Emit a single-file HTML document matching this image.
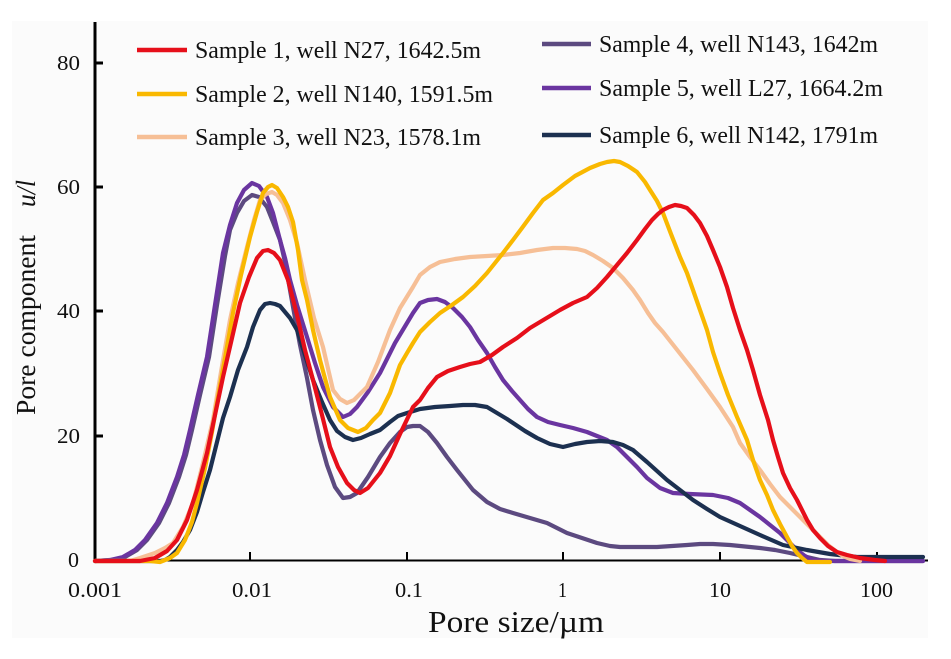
<!DOCTYPE html>
<html>
<head>
<meta charset="utf-8">
<style>
html,body{margin:0;padding:0;background:#ffffff;}
svg{display:block;}
text{font-family:"Liberation Serif","Times New Roman",serif;fill:#111;}
</style>
</head>
<body>
<svg width="951" height="659" viewBox="0 0 951 659" xmlns="http://www.w3.org/2000/svg">
<rect x="0" y="0" width="951" height="659" fill="#ffffff"/>
<rect x="12" y="21" width="916" height="617" fill="#fbfbfb"/>

<!-- axes -->
<line x1="95" y1="22" x2="95" y2="562" stroke="#000" stroke-width="3"/>
<line x1="94" y1="560.5" x2="928" y2="560.5" stroke="#000" stroke-width="2"/>
<!-- y ticks -->
<g stroke="#000" stroke-width="3">
<line x1="95" y1="63" x2="103" y2="63"/>
<line x1="95" y1="187" x2="103" y2="187"/>
<line x1="95" y1="311" x2="103" y2="311"/>
<line x1="95" y1="436" x2="103" y2="436"/>
</g>
<!-- x ticks -->
<g stroke="#000" stroke-width="2">
<line x1="250" y1="552" x2="250" y2="561"/>
<line x1="407" y1="552" x2="407" y2="561"/>
<line x1="563" y1="552" x2="563" y2="561"/>
<line x1="720" y1="552" x2="720" y2="561"/>
<line x1="877" y1="552" x2="877" y2="561"/>
</g>

<!-- y tick labels -->
<g font-size="21">
<text x="57" y="70" textLength="23" lengthAdjust="spacingAndGlyphs">80</text>
<text x="57" y="194" textLength="23" lengthAdjust="spacingAndGlyphs">60</text>
<text x="57" y="318" textLength="23" lengthAdjust="spacingAndGlyphs">40</text>
<text x="57" y="443" textLength="23" lengthAdjust="spacingAndGlyphs">20</text>
<text x="68" y="567" textLength="11" lengthAdjust="spacingAndGlyphs">0</text>
</g>
<!-- x tick labels -->
<g font-size="21">
<text x="68" y="597" textLength="54" lengthAdjust="spacingAndGlyphs">0.001</text>
<text x="232" y="597" textLength="40" lengthAdjust="spacingAndGlyphs">0.01</text>
<text x="395" y="597" textLength="28" lengthAdjust="spacingAndGlyphs">0.1</text>
<text x="558" y="597" textLength="9" lengthAdjust="spacingAndGlyphs">1</text>
<text x="709" y="597" textLength="22" lengthAdjust="spacingAndGlyphs">10</text>
<text x="860" y="597" textLength="33" lengthAdjust="spacingAndGlyphs">100</text>
</g>

<!-- axis titles -->
<text x="428" y="632" font-size="31" textLength="176" lengthAdjust="spacingAndGlyphs">Pore size/µm</text>
<g transform="translate(35,415) rotate(-90)">
<text x="0" y="0" font-size="27" textLength="180" lengthAdjust="spacingAndGlyphs">Pore component</text>
<text x="208" y="0" font-size="27" font-style="italic" textLength="27" lengthAdjust="spacingAndGlyphs">u/l</text>
</g>

<!-- series -->
<g fill="none" stroke-width="4.2" stroke-linejoin="round" stroke-linecap="round">
<!-- Sample 4 -->
<polyline stroke="#5c4a80" points="95,561 112,560 125,557 137,550 147,540 159,523 169,503 179,477 186,455 192,430 200,395 209,357 217,305 225,256 230,230 237,213 244,201 252,195 259,197 267,207 273,222 280,240 285,262 290,290 295,318 300,345 307,378 313,410 320,440 327,465 335,487 343,498 350,497 357,493 368,477 380,457 390,443 400,432 407,427 413,426 420,426 428,432 437,443 447,457 457,470 473,490 487,502 500,509 513,513 530,518 547,523 557,528 567,533 582,538 597,543 610,546 620,547 640,547 657,547 672,546 687,545 700,544 713,544 730,545 740,546 760,548 775,550 790,553 807,557 820,560 835,561 923,561"/>
<!-- Sample 5 -->
<polyline stroke="#6a35a0" points="95,561 110,560 123,557 135,550 145,540 157,523 167,503 177,477 184,455 190,430 198,395 207,357 215,305 223,253 230,225 237,203 244,190 252,183 259,186 267,197 273,213 280,240 285,258 290,280 297,305 307,337 315,363 323,387 333,407 343,417 350,414 357,407 368,392 380,373 395,343 413,313 420,303 428,300 437,299 445,302 453,308 462,317 470,327 478,340 487,353 495,367 503,380 512,391 520,400 528,409 537,417 548,422 560,425 573,428 587,432 597,436 607,440 617,447 627,457 637,467 647,478 660,488 673,493 690,494 713,495 728,498 740,503 750,510 760,517 770,525 780,533 790,543 797,550 805,556 812,560 825,561 923,561"/>
<!-- Sample 6 -->
<polyline stroke="#1c3050" points="95,561 160,561 165,560 170,557 177,550 183,542 190,530 197,512 203,492 210,470 217,442 223,418 230,397 238,370 247,347 253,327 260,310 265,304 270,303 275,304 280,306 285,312 290,318 297,330 305,355 313,380 322,402 330,420 337,431 345,437 353,440 361,438 370,434 380,430 390,422 398,416 407,413 420,409 435,407 450,406 463,405 475,405 487,407 497,413 507,419 513,423 525,431 537,438 550,444 563,447 575,444 587,442 600,441 613,442 623,445 633,450 647,462 657,471 667,480 680,490 693,500 707,509 720,517 740,526 760,535 783,545 807,550 830,554 857,557 880,557 923,557"/>
<!-- Sample 3 -->
<polyline stroke="#f6bf96" points="95,561 130,561 140,558 155,553 165,548 173,543 183,527 193,503 203,463 213,420 221,372 230,320 238,283 247,247 254,220 260,200 266,194 272,192 277,195 283,203 290,220 297,243 305,280 314,318 323,347 333,390 340,399 347,403 354,400 360,394 367,387 378,362 390,330 400,308 413,287 420,275 430,267 440,262 455,259 470,257 487,256 503,255 520,253 537,250 553,248 565,248 577,249 585,251 593,255 603,261 613,268 623,278 633,290 640,300 648,313 655,323 663,332 678,351 693,370 707,389 720,407 733,427 740,443 750,457 760,470 770,484 780,497 790,507 800,517 810,527 820,537 828,545 837,552 843,556 850,559 860,561"/>
<!-- Sample 2 -->
<polyline stroke="#f9b800" points="95,561 150,561 160,562 170,558 177,553 185,540 192,522 197,503 205,468 212,432 217,403 225,358 233,313 241,275 250,237 257,212 263,193 268,187 272,185 277,188 283,197 288,207 293,222 298,250 302,280 307,300 313,330 320,360 330,397 340,420 348,428 358,432 366,428 373,420 380,413 390,393 400,365 407,353 413,343 420,332 430,322 440,313 452,305 463,297 475,286 487,273 495,263 503,253 513,240 522,228 533,213 543,200 553,193 563,185 575,176 590,168 600,164 607,162 614,161 620,162 628,166 637,172 645,182 650,190 657,201 663,213 671,234 680,257 687,273 693,290 700,310 707,330 713,352 720,373 728,395 737,417 747,440 753,460 760,480 767,495 773,510 780,524 787,537 792,546 797,553 802,558 807,562 815,562 830,562"/>
<!-- Sample 1 -->
<polyline stroke="#e60f1a" points="95,561 140,561 155,558 167,551 177,540 187,520 197,490 207,453 215,415 223,377 232,338 240,303 249,277 257,258 263,251 268,250 274,253 280,260 288,280 297,315 305,350 313,380 322,415 330,447 338,467 347,483 354,490 360,493 368,488 380,473 390,456 400,434 413,407 420,400 428,388 437,377 448,371 460,367 470,364 480,362 492,355 503,347 517,338 530,328 545,319 560,310 573,303 587,297 597,288 607,277 617,265 627,253 637,240 645,229 652,220 658,214 663,210 669,207 675,205 681,206 687,208 694,215 700,223 707,236 713,250 720,267 727,287 733,308 740,330 747,350 753,370 760,395 768,420 773,440 778,457 783,473 790,488 797,500 807,520 813,530 820,538 828,546 837,552 847,555 860,558 875,560 885,561"/>
</g>

<!-- legend -->
<g stroke-width="4.5" stroke-linecap="butt">
<line x1="137" y1="50" x2="187" y2="50" stroke="#e60f1a"/>
<line x1="137" y1="94" x2="187" y2="94" stroke="#f9b800"/>
<line x1="137" y1="137" x2="187" y2="137" stroke="#f6bf96"/>
<line x1="542" y1="44" x2="591" y2="44" stroke="#5c4a80"/>
<line x1="542" y1="88" x2="591" y2="88" stroke="#6a35a0"/>
<line x1="542" y1="135" x2="591" y2="135" stroke="#1c3050"/>
</g>
<g font-size="24">
<text x="195" y="58" textLength="286" lengthAdjust="spacingAndGlyphs">Sample 1, well N27, 1642.5m</text>
<text x="195" y="102" textLength="298" lengthAdjust="spacingAndGlyphs">Sample 2, well N140, 1591.5m</text>
<text x="195" y="145" textLength="286" lengthAdjust="spacingAndGlyphs">Sample 3, well N23, 1578.1m</text>
<text x="599" y="52" textLength="279" lengthAdjust="spacingAndGlyphs">Sample 4, well N143, 1642m</text>
<text x="599" y="96" textLength="284" lengthAdjust="spacingAndGlyphs">Sample 5, well L27, 1664.2m</text>
<text x="599" y="143" textLength="279" lengthAdjust="spacingAndGlyphs">Sample 6, well N142, 1791m</text>
</g>
</svg>
</body>
</html>
